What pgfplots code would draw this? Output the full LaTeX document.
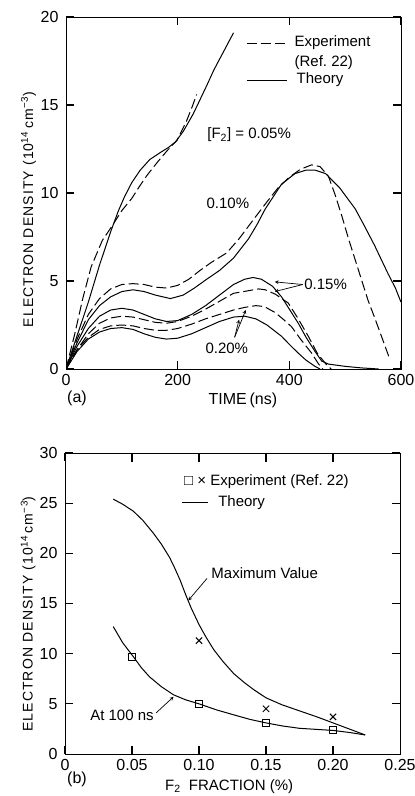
\documentclass[border=0pt]{standalone}
\usepackage{fontspec}
\setmainfont{Liberation Sans}
\usepackage{pgfplots}
\pgfplotsset{compat=1.18}

\tikzset{
  expt/.style={dash pattern=on 10pt off 4pt},
  theory/.style={solid},
  lab/.style={-stealth, line width=0.7pt},
  tk/.style={line width=1.1pt, black},
}

\newcommand{\ylab}{{\fontsize{14}{16}\selectfont\addfontfeature{LetterSpace=8}ELECTRON DENSITY (10\textsuperscript{14}\,cm\textsuperscript{−3})}}

\begin{document}
\begin{tikzpicture}
\useasboundingbox (0,0) rectangle (415pt,796pt);

% ---------- (a) density vs time ----------
\begin{axis}[scale only axis, width=335pt, height=352pt, anchor=south west, at={(66pt,427pt)},
  tick align=inside, major tick length=8pt, tick pos=both,
  every tick/.style={line width=1pt, black},
  xmin=0, xmax=600, ymin=0, ymax=20,
  xtick={0,200,400,600}, xticklabels={0,200,400,600},
  ytick={0,5,10,15,20}, yticklabels={0,5,10,15,20},
  tick label style={font=\fontsize{16}{18}\selectfont},
  xticklabel style={yshift=-2pt},
  yticklabel style={xshift=-4pt},
  font=\fontsize{15}{17}\selectfont,
  xlabel={TIME\,(ns)},
  xlabel style={at={(axis description cs:0.528,-0.088)}, anchor=center, font=\fontsize{16}{18}\selectfont},
  ylabel={\ylab},
  ylabel style={at={(axis description cs:-0.112,0.453)}, anchor=center},
]
% 0.05 %
\addplot[theory, line width=1pt] coordinates {(0,0) (20,1.9) (40,3.8) (60,5.9) (80,7.8) (94,9.0) (105,9.8) (118,10.6) (133,11.3) (150,11.9) (169,12.3) (184,12.6) (196,12.9) (210,13.5) (228,14.5) (240,15.3) (252,16.1) (265,17.0) (280,17.9) (300,19.1)};
\addplot[expt, line width=1pt] coordinates {(0,0) (15,1.9) (30,4.0) (45,5.8) (65,7.3) (82,8.1) (100,9.0) (118,9.7) (130,10.3) (145,11.0) (165,11.8) (181,12.4) (199,13.0) (216,14.1) (226,14.9) (234,15.6)};
% 0.10 %
\addplot[theory, line width=1pt] coordinates {(0,0) (20,1.5) (40,2.8) (60,3.6) (80,4.1) (100,4.4) (120,4.5) (140,4.4) (160,4.2) (187,4.0) (210,4.2) (230,4.6) (252,5.1) (275,5.6) (300,6.3) (327,7.4) (342,8.2) (357,9.1) (386,10.5) (410,11.1) (430,11.3) (446,11.3) (465,11.1) (490,10.3) (518,9.1) (535,8.1) (553,7.0) (565,6.2) (577,5.4) (590,4.6) (600,3.8)};
\addplot[expt, line width=1pt] coordinates {(0,0) (20,1.7) (40,3.1) (60,4.0) (80,4.55) (100,4.8) (120,4.85) (140,4.8) (160,4.65) (180,4.6) (200,4.75) (220,5.1) (240,5.6) (260,6.05) (288,6.6) (310,7.4) (336,8.5) (360,9.5) (380,10.3) (400,10.9) (420,11.35) (440,11.6) (455,11.5) (470,10.95) (482,9.9) (494,8.7) (506,7.4) (518,6.2) (530,5.0) (541,3.9) (553,2.9) (565,1.86) (580,0.55)};
% 0.15 %
\addplot[theory, line width=1pt] coordinates {(0,0) (20,1.3) (40,2.3) (60,3.0) (80,3.35) (100,3.45) (120,3.35) (140,3.1) (160,2.85) (180,2.7) (200,2.75) (225,3.1) (250,3.6) (275,4.2) (300,4.8) (320,5.1) (335,5.2) (350,5.1) (370,4.7) (386,4.1) (400,3.4) (416,2.6) (430,1.8) (446,1.0) (458,0.45) (470,0.28) (500,0.15) (530,0.06) (560,0)};
\addplot[expt, line width=1pt] coordinates {(0,0) (20,1.1) (40,2.0) (60,2.6) (80,2.9) (100,3.0) (120,2.95) (140,2.8) (160,2.65) (180,2.6) (200,2.7) (225,3.0) (250,3.4) (275,3.85) (300,4.3) (327,4.45) (345,4.55) (357,4.5) (375,4.25) (398,3.75) (415,2.9) (434,1.86) (450,0.9) (465,0.3) (475,0)};
% 0.20 %
\addplot[theory, line width=1pt] coordinates {(0,0) (20,1.0) (40,1.7) (60,2.1) (80,2.3) (100,2.35) (120,2.25) (140,2.0) (160,1.8) (180,1.7) (200,1.75) (225,2.0) (250,2.35) (275,2.7) (300,2.95) (320,3.0) (340,2.85) (360,2.5) (386,1.86) (400,1.4) (416,0.9) (430,0.5) (446,0.15) (455,0)};
\addplot[expt, line width=1pt] coordinates {(0,0) (20,1.1) (40,1.8) (60,2.25) (80,2.45) (100,2.5) (120,2.45) (140,2.3) (160,2.2) (180,2.2) (200,2.3) (225,2.55) (250,2.85) (275,3.1) (300,3.35) (320,3.5) (340,3.6) (355,3.55) (375,3.2) (390,2.8) (404,2.4) (420,1.7) (440,0.9) (452,0.3) (460,0)};

% inward tick marks
\draw[tk] (axis cs:200,0) -- (axis cs:200,0.45);
\draw[tk] (axis cs:400,0) -- (axis cs:400,0.45);
\draw[tk] (axis cs:200,20) -- (axis cs:200,19.55);
\draw[tk] (axis cs:400,20) -- (axis cs:400,19.55);
\draw[tk] (axis cs:0,5) -- (axis cs:14,5);
\draw[tk] (axis cs:0,10) -- (axis cs:14,10);
\draw[tk] (axis cs:0,15) -- (axis cs:14,15);
\draw[tk] (axis cs:600,5) -- (axis cs:586,5);
\draw[tk] (axis cs:600,10) -- (axis cs:586,10);
\draw[tk] (axis cs:600,15) -- (axis cs:586,15);

\draw[expt, line width=1pt] (axis description cs:0.540,0.926) -- (axis description cs:0.660,0.926);
\node[anchor=west] at (axis description cs:0.672,0.926) {Experiment};
\node[anchor=west] at (axis description cs:0.672,0.870) {(Ref.\ 22)};
\draw[line width=1pt] (axis description cs:0.540,0.821) -- (axis description cs:0.660,0.821);
\node[anchor=west] at (axis description cs:0.678,0.821) {Theory};

\node at (axis cs:328,13.3) {[F\textsubscript{2}] = 0.05\%};
\node at (axis cs:290,9.4) {0.10\%};
\node at (axis cs:465,4.8) {0.15\%};
\draw[lab] (axis cs:424,4.8) -- (axis cs:374,4.95);
\draw[lab] (axis cs:424,4.8) -- (axis cs:374,4.4);
\node at (axis cs:288,1.2) {0.20\%};
\draw[lab] (axis cs:302,1.8) -- (axis cs:322,3.35);
\draw[lab] (axis cs:302,1.8) -- (axis cs:310,2.8);
\end{axis}
\node[font=\fontsize{16}{18}\selectfont] at (77pt,398pt) {(a)};

% ---------- (b) density vs F2 fraction ----------
\begin{axis}[scale only axis, width=335pt, height=301pt, anchor=south west, at={(65pt,42pt)},
  tick align=inside, major tick length=8pt, tick pos=both,
  every tick/.style={line width=1pt, black},
  xmin=0, xmax=0.25, ymin=0, ymax=30,
  xtick={0,0.05,0.1,0.15,0.2,0.25},
  xticklabels={0,0.05,0.10,0.15,0.20,0.25},
  ytick={0,5,10,15,20,25,30}, yticklabels={0,5,10,15,20,25,30},
  tick label style={font=\fontsize{16}{18}\selectfont},
  xticklabel style={yshift=-2pt},
  yticklabel style={xshift=-4pt},
  font=\fontsize{15}{17}\selectfont,
  xlabel={F\textsubscript{2}\ \ FRACTION (\%)},
  xlabel style={at={(axis description cs:0.49,-0.108)}, anchor=center, font=\fontsize{15}{17}\selectfont},
  ylabel={\ylab},
  ylabel style={at={(axis description cs:-0.11,0.465)}, anchor=center},
]
\addplot[theory, line width=1pt] coordinates {(0.036,25.4) (0.043,24.9) (0.051,24.2) (0.058,23.3) (0.066,22.0) (0.072,20.9) (0.078,19.6) (0.082,18.5) (0.086,17.3) (0.090,15.9) (0.094,14.6) (0.100,12.9) (0.105,11.7) (0.111,10.4) (0.118,9.2) (0.126,8.0) (0.134,7.1) (0.141,6.4) (0.150,5.6) (0.162,4.9) (0.175,4.3) (0.188,3.7) (0.200,3.1) (0.212,2.5) (0.224,1.9)};
\addplot[theory, line width=1pt] coordinates {(0.036,12.7) (0.043,11.1) (0.051,9.7) (0.057,8.6) (0.063,7.7) (0.072,6.7) (0.081,5.9) (0.090,5.4) (0.100,5.0) (0.113,4.4) (0.126,3.9) (0.138,3.45) (0.150,3.1) (0.162,2.8) (0.175,2.56) (0.188,2.45) (0.200,2.35) (0.212,2.15) (0.224,1.9)};
\addplot[black, only marks, mark=square, mark size=3.5pt, line width=0.8pt, fill=white] coordinates {(0.05,9.7) (0.10,5.0) (0.15,3.1) (0.20,2.4)};
\addplot[black, only marks, mark=x, mark size=4.5pt, line width=0.9pt] coordinates {(0.10,11.3) (0.15,4.5) (0.20,3.7)};

% inward tick marks
\draw[tk] (axis cs:0.05,0) -- (axis cs:0.05,0.8);
\draw[tk] (axis cs:0.10,0) -- (axis cs:0.10,0.8);
\draw[tk] (axis cs:0.15,0) -- (axis cs:0.15,0.8);
\draw[tk] (axis cs:0.20,0) -- (axis cs:0.20,0.8);
\draw[tk] (axis cs:0.05,30) -- (axis cs:0.05,29.1);
\draw[tk] (axis cs:0.10,30) -- (axis cs:0.10,29.1);
\draw[tk] (axis cs:0.15,30) -- (axis cs:0.15,29.1);
\draw[tk] (axis cs:0.20,30) -- (axis cs:0.20,29.1);
\draw[tk] (axis cs:0,5) -- (axis cs:0.006,5);
\draw[tk] (axis cs:0,10) -- (axis cs:0.006,10);
\draw[tk] (axis cs:0,15) -- (axis cs:0.006,15);
\draw[tk] (axis cs:0,20) -- (axis cs:0.006,20);
\draw[tk] (axis cs:0,25) -- (axis cs:0.006,25);
\draw[tk] (axis cs:0.25,5) -- (axis cs:0.244,5);
\draw[tk] (axis cs:0.25,10) -- (axis cs:0.244,10);
\draw[tk] (axis cs:0.25,15) -- (axis cs:0.244,15);
\draw[tk] (axis cs:0.25,20) -- (axis cs:0.244,20);
\draw[tk] (axis cs:0.25,25) -- (axis cs:0.244,25);

\node[anchor=west] at (axis description cs:0.345,0.904) {□ × Experiment (Ref.\ 22)};
\draw[line width=1pt] (axis description cs:0.349,0.834) -- (axis description cs:0.427,0.834);
\node[anchor=west] at (axis description cs:0.447,0.834) {Theory};

\node at (axis cs:0.149,18.0) {Maximum Value};
\draw[lab] (axis cs:0.106,17.5) -- (axis cs:0.092,15.3);
\node at (axis cs:0.0425,3.9) {At 100 ns};
\draw[lab] (axis cs:0.068,4.1) -- (axis cs:0.081,5.7);
\end{axis}
\node[font=\fontsize{16}{18}\selectfont] at (77pt,17pt) {(b)};
\end{tikzpicture}
\end{document}
